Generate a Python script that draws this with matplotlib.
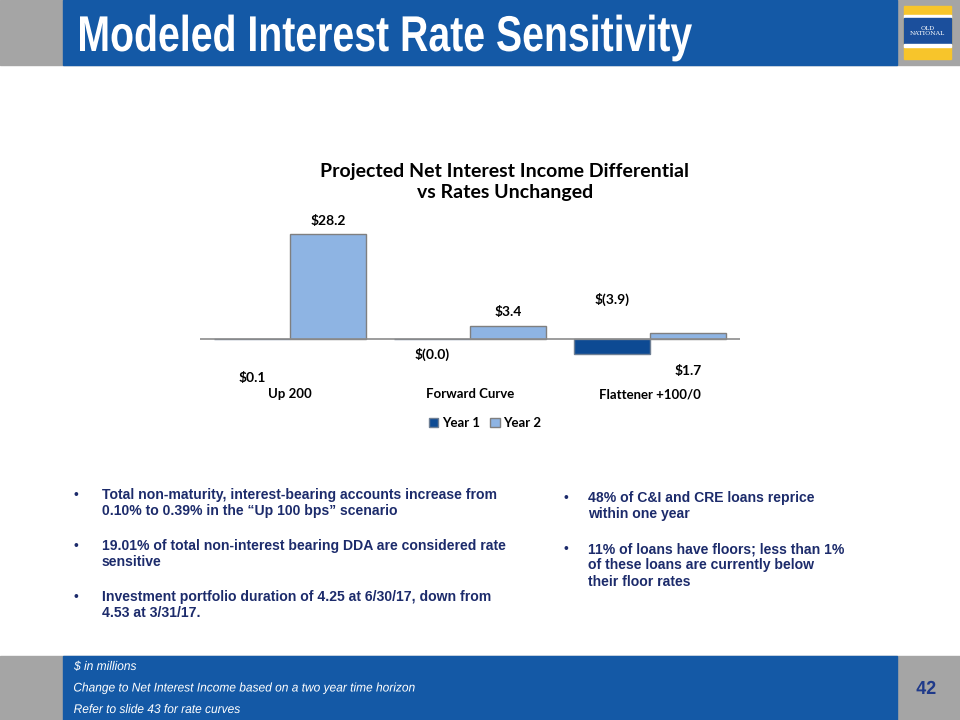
import matplotlib
matplotlib.use("Agg")
import matplotlib.pyplot as plt
from matplotlib.patches import Rectangle, PathPatch
from matplotlib.textpath import TextPath
from matplotlib.font_manager import FontProperties
from matplotlib.transforms import Affine2D
import numpy as np

# ---- data ----
categories = ["Up 200", "Forward Curve", "Flattener +100/0"]
series_names = ["Year 1", "Year 2"]
year1 = [0.1, -0.04, -3.9]
year2 = [28.2, 3.4, 1.7]
year1_labels = ["$0.1", "$(0.0)", "$(3.9)"]
year2_labels = ["$28.2", "$3.4", "$1.7"]
chart_title = "Projected Net Interest Income Differential\nvs Rates Unchanged"
slide_title = "Modeled Interest Rate Sensitivity"
left_bullets = [
    "Total non-maturity, interest-bearing accounts increase from\n0.10% to 0.39% in the \u201cUp 100 bps\u201d scenario",
    "19.01% of total non-interest bearing DDA are considered rate\nsensitive",
    "Investment portfolio duration of 4.25 at 6/30/17, down from\n4.53 at 3/31/17.",
]
right_bullets = [
    "48% of C&I and CRE loans reprice\nwithin one year",
    "11% of loans have floors; less than 1%\nof these loans are currently below\ntheir floor rates",
]
footnotes = [
    "$ in millions",
    "Change to Net Interest Income based on a two year time horizon",
    "Refer to slide 43 for rate curves",
]
page_number = "42"

# ---- style ----
W, H = 960, 720
DARK = "#0D4A93"
LIGHT = "#8EB4E3"
BAND = "#1459A6"
GRAY = "#A5A5A5"
NAVY = "#1C2B6B"
chartfont = ["Lato", "DejaVu Sans"]

fig = plt.figure(figsize=(W / 100, H / 100), dpi=100)
fig.patch.set_facecolor("white")

# overlay in pixel coordinates
ov = fig.add_axes([0, 0, 1, 1])
ov.set_xlim(0, W)
ov.set_ylim(H, 0)
ov.axis("off")


def condensed(x, y_base, s, cap_px, color, sx=0.75, weight="bold", style="normal",
              width_px=None, ha="left", z=4):
    prop = FontProperties(family="Liberation Sans", weight=weight, style=style)
    size = cap_px / 0.716
    tp = TextPath((0, 0), s, size=size, prop=prop)
    ext = tp.get_extents()
    if width_px is not None:
        sx = width_px / ext.width
    w = ext.width * sx
    x0 = x if ha == "left" else (x - w / 2 if ha == "center" else x - w)
    tr = Affine2D().translate(-ext.x0, 0).scale(sx, -1).translate(x0, y_base)
    path = tr.transform_path(tp)
    ov.add_patch(PathPatch(path, facecolor=color, edgecolor="none", zorder=z))


# header
ov.add_patch(Rectangle((0, 0), W, 65, color=GRAY, zorder=0))
ov.add_patch(Rectangle((63, 0), 834, 65, color=BAND, zorder=1))
condensed(80, 51, slide_title, 36, "white", width_px=612)
# logo
ov.add_patch(Rectangle((904, 6), 47, 53, color="#F7C52B", zorder=2))
ov.add_patch(Rectangle((904, 15), 47, 3, color="white", zorder=3))
ov.add_patch(Rectangle((904, 18), 47, 26, color="#1B4F9C", zorder=3))
ov.add_patch(Rectangle((904, 44), 47, 3, color="white", zorder=3))
ov.text(927.5, 31, "OLD\nNATIONAL", color="white", fontsize=4.5, family="DejaVu Serif",
        ha="center", va="center", zorder=4, linespacing=1.0)

# footer
ov.add_patch(Rectangle((0, 656), W, 64, color=GRAY, zorder=0))
ov.add_patch(Rectangle((63, 656), 834, 64, color=BAND, zorder=1))
for i, t in enumerate(footnotes):
    condensed(74, 670 + i * 21.5, t, 9, "white", sx=0.95, weight="normal", style="italic")
condensed(926, 694, page_number, 13.5, "#1F3A8A", sx=0.95, ha="center")

# bullets
def bullets(items, xb, xt, y0, gap, line_h=17):
    y = y0
    for t in items:
        n = t.count("\n") + 1
        ov.text(xb, y, "\u2022", color=NAVY, fontsize=10, ha="left", va="center",
                family="Liberation Sans")
        ov.text(xt, y - 7, t, color=NAVY, fontsize=10.1, fontweight="bold",
                family="Liberation Sans", ha="left", va="top", linespacing=1.22)
        y += n * line_h + gap

bullets(left_bullets, 73, 102, 495, 17)
bullets(right_bullets, 563, 588, 498, 17)

# chart title
ov.text(505, 182, chart_title, color="black", fontsize=14, fontweight="bold",
        family=chartfont, ha="center", va="center", linespacing=1.3)

# ---- bar chart ----
left_px, right_px, top_px, bot_px = 200, 740, 220, 380
ax = fig.add_axes([left_px / W, 1 - bot_px / H, (right_px - left_px) / W, (bot_px - top_px) / H])
ppu = 105 / 28.2
ax.set_ylim(-(bot_px - 339) / ppu, (339 - top_px) / ppu)
ax.set_xlim(-0.5, len(categories) - 0.5)
x = np.arange(len(categories))
bw = 0.42
b1 = ax.bar(x - bw / 2, year1, bw, color=DARK, edgecolor="#6E7F94", linewidth=1.0, label=series_names[0], zorder=2)
b2 = ax.bar(x + bw / 2, year2, bw, color=LIGHT, edgecolor="#7F7F7F", linewidth=1.0, label=series_names[1], zorder=2)
ax.axhline(0, color="#8C8C8C", linewidth=1.2, zorder=3)
for s in ax.spines.values():
    s.set_visible(False)
ax.set_yticks([])
ax.set_xticks(x)
ax.set_xticklabels(categories, family=chartfont, fontweight="bold", fontsize=9.5)
ax.tick_params(axis="x", length=0, pad=6)
ax.patch.set_alpha(0)

# data labels (offsets in pixels)
off1 = [(0, -39), (0, -15), (0, 40)]
off2 = [(0, 13), (0, 14), (0, -38)]
for i in range(len(categories)):
    ax.annotate(year1_labels[i], xy=(x[i] - bw / 2, year1[i] if i < 2 else 0),
                xytext=off1[i], textcoords="offset pixels", ha="center", va="center",
                family=chartfont, fontweight="bold", fontsize=10)
    ax.annotate(year2_labels[i], xy=(x[i] + bw / 2, year2[i]),
                xytext=off2[i], textcoords="offset pixels", ha="center", va="center",
                family=chartfont, fontweight="bold", fontsize=10)

leg = fig.legend(handles=[b1, b2], labels=series_names, loc="center",
                 bbox_to_anchor=(485 / W, 1 - 423 / H), ncol=2, frameon=False,
                 prop={"family": chartfont, "weight": "bold", "size": 9.5},
                 handlelength=0.7, handleheight=0.7, handletextpad=0.3, columnspacing=0.8)

fig.savefig("out.png", dpi=100)
